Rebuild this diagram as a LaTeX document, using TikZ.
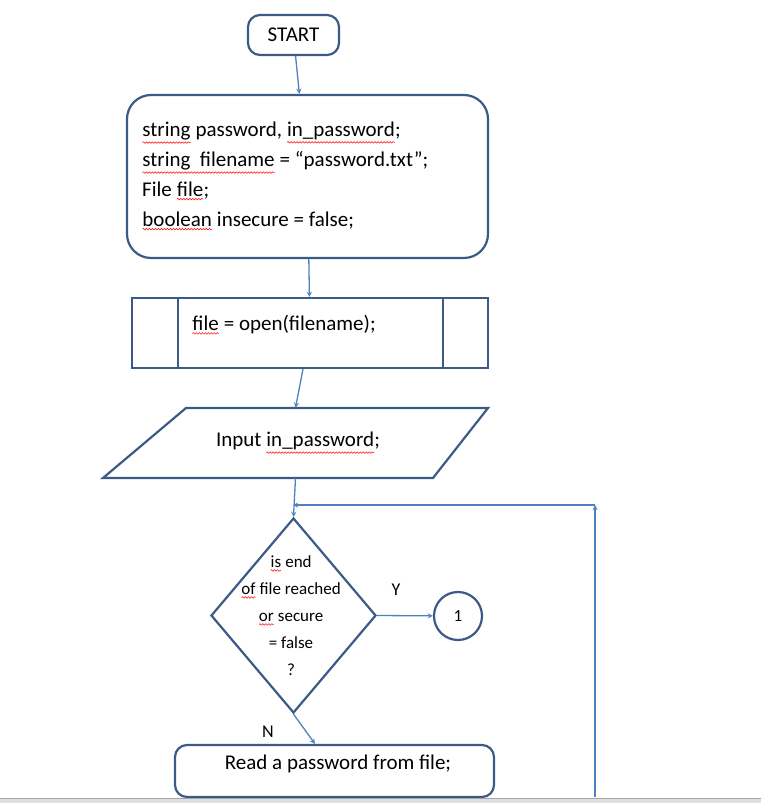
\documentclass[tikz,border=0pt]{standalone}
\usepackage{fontspec}
\setmainfont{Carlito}
\usetikzlibrary{shapes.geometric,decorations.pathmorphing}
\definecolor{boxline}{HTML}{3B5A86}
\definecolor{arrline}{HTML}{4F81BD}
\newcommand\spl[1]{\tikz[baseline=(w.base)]{\node[inner sep=0pt,outer sep=0pt] (w) {#1};
  \draw[red, line width=0.5pt, decorate, decoration={snake, amplitude=0.8pt, segment length=3pt}] ([yshift=-2.5pt]w.south west) -- ([yshift=-2.5pt]w.south east);}}
\tikzset{
  box/.style={draw=boxline, line width=2.2pt, rounded corners=12pt, inner sep=0pt},
  flow/.style={draw=arrline, line width=1.3pt, ->, >=stealth},
  txt/.style={font=\fontsize{21}{30}\selectfont, inner sep=0pt}
}
\begin{document}
\begin{tikzpicture}[x=1pt,y=-1pt]
\useasboundingbox (0,0) rectangle (761,803);

\node [box, minimum width=91pt, minimum height=40pt, txt] (start) at (293.5,35) {START};

\node [box, rounded corners=24pt, minimum width=361pt, minimum height=163pt] (decl) at (307.5,176.5) {};
\node [txt, anchor=west, align=left] (decltxt) at (142,176) {\spl{string} password, \spl{in\_password};\\
\spl{string \ filename} = “password.txt”;\\File \spl{file};\\\spl{boolean} insecure = false;};

\node [box, rounded corners=0pt, minimum width=356pt, minimum height=70pt] (open) at (310,333) {};
\draw [boxline, line width=2.2pt] (178,298) -- (178,368) (443,298) -- (443,368);
\node [txt, anchor=west] at (192,325) {\spl{file} = open(filename);};

\node [minimum width=385pt, minimum height=70pt, inner sep=0pt] (inp) at (295.5,443) {};
\draw [boxline, line width=2.2pt] (186,408) -- (488,408) -- (433,478) -- (103,478) -- cycle;
\node [txt] at (298,443) {Input \spl{in\_password};};

\node [diamond, draw=boxline, line width=2.2pt, minimum width=165pt, minimum height=195pt, inner sep=0pt] (dec) at (293.5,615.5) {};
\node [font=\fontsize{17}{27}\selectfont, align=center, inner sep=0pt] at (291,616) {\spl{is} end\\\spl{of} file reached\\\spl{or} secure\\= false\\?};
\node [txt, font=\fontsize{18}{20}\selectfont] (ylab) at (396,590) {Y};
\node [txt, font=\fontsize{18}{20}\selectfont] (nlab) at (268,732) {N};

\node [circle, draw=boxline, line width=2.2pt, minimum size=48pt, inner sep=0pt, txt, font=\fontsize{17}{20}\selectfont] (one) at (458,616) {1};

\node [box, minimum width=319pt, minimum height=52pt] (read) at (334.5,771) {};
\node [txt] at (338,764) {Read a password from file;};

\fill [gray!25] (0,798) rectangle (761,803);
\draw [gray!70, line width=1pt] (0,798) -- (761,798);

\draw [flow] (start) -- (decl);
\draw [flow] (decl) -- (open);
\draw [flow] (open) -- (inp.north);
\draw [flow] (inp.south) -- (dec.north);
\draw [flow] (dec.east) -- (one);
\draw [flow] (dec.south) -- (read);
\coordinate (lb) at (595,797);
\coordinate (lt) at (595,505);
\coordinate (lj) at (293,505);
\draw [flow] (lb) -- (lt);
\draw [flow] (lt) -- (lj);
\end{tikzpicture}
\end{document}
